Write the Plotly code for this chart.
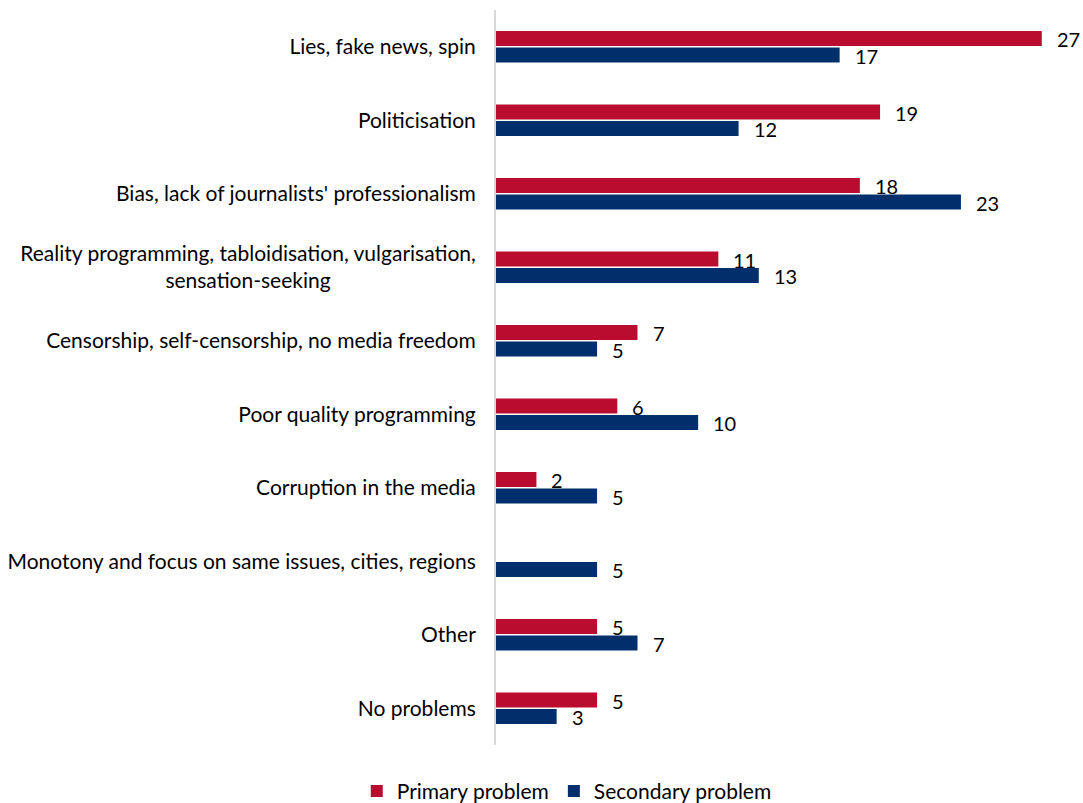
import plotly.graph_objects as go

categories = [
    "Lies, fake news, spin",
    "Politicisation",
    "Bias, lack of journalists' professionalism",
    "Reality programming, tabloidisation, vulgarisation,<br>sensation-seeking" + "\u00a0" * 27,
    "Censorship, self-censorship, no media freedom",
    "Poor quality programming",
    "Corruption in the media",
    "Monotony and focus on same issues, cities, regions",
    "Other",
    "No problems",
]
primary = [27, 19, 18, 11, 7, 6, 2, None, 5, 5]
secondary = [17, 12, 23, 13, 5, 10, 5, 5, 7, 3]

RED = "#BA0C2F"
NAVY = "#002F6C"
FONT = "Lato"

fig = go.Figure()
fig.add_trace(go.Bar(y=categories, x=primary, orientation="h", name="Primary problem",
                     marker=dict(color=RED, line=dict(width=0))))
fig.add_trace(go.Bar(y=categories, x=secondary, orientation="h", name="Secondary problem",
                     marker=dict(color=NAVY, line=dict(width=0))))

annotations = []
for vals, shift in ((primary, 7.5), (secondary, -9)):
    for c, v in zip(categories, vals):
        if v is None:
            continue
        annotations.append(dict(x=v, y=c, xref="x", yref="y", text=str(v), showarrow=False,
                                xanchor="left", yanchor="middle", xshift=13, yshift=shift,
                                font=dict(family=FONT, size=20, color="#000000")))

fig.update_layout(
    width=1083, height=803,
    margin=dict(l=496, r=21, t=10, b=58, autoexpand=False),
    paper_bgcolor="white", plot_bgcolor="white",
    barmode="group", bargap=0.55, bargroupgap=0.1,
    font=dict(family=FONT, size=21, color="#000000"),
    xaxis=dict(range=[0, 28], visible=False, showgrid=False, zeroline=False),
    yaxis=dict(autorange="reversed", showline=True, linecolor="#D9D9D9", linewidth=2,
               showgrid=False, ticks="", ticklabelstandoff=14, automargin=False,
               tickfont=dict(family=FONT, size=21, color="#000000")),
    legend=dict(orientation="h", x=0.125, xanchor="center", y=-0.035, yanchor="top",
                font=dict(family=FONT, size=21, color="#000000"), itemclick=False),
    annotations=annotations,
)

fig.write_html("out.html", config={"displayModeBar": False},
               post_script="document.body.style.margin='0px';")
